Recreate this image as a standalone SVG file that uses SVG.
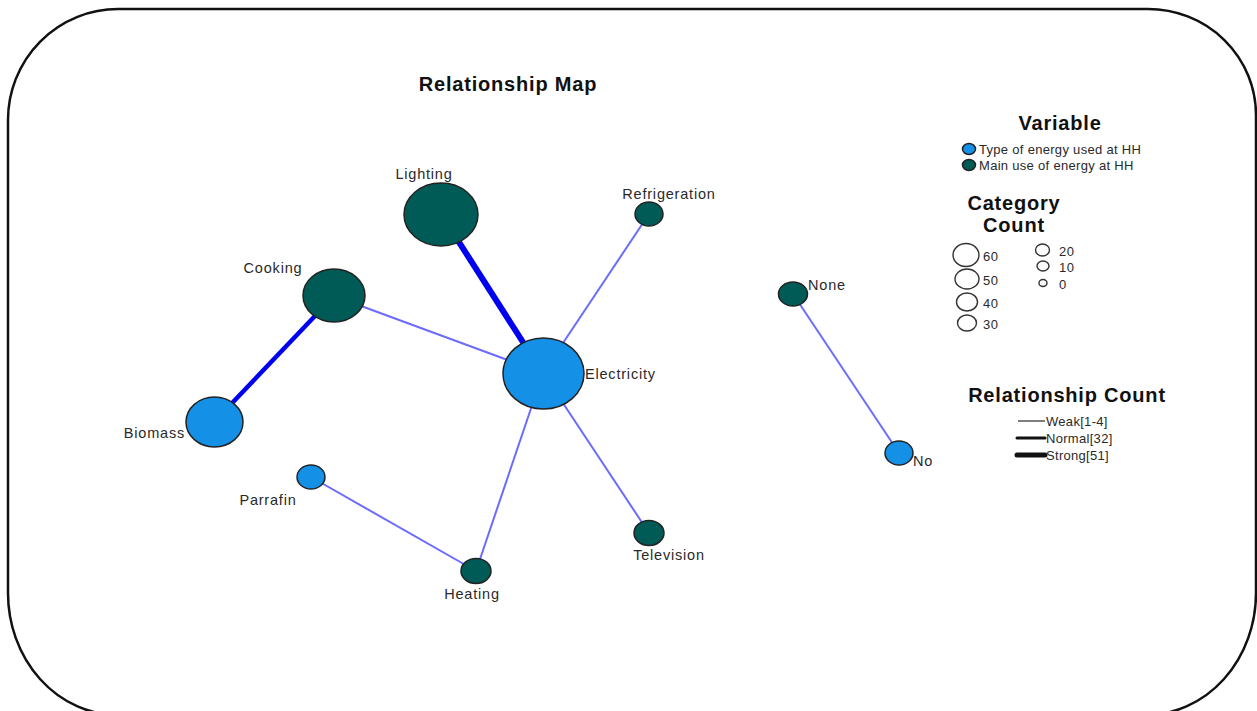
<svg xmlns="http://www.w3.org/2000/svg" width="1257" height="711" viewBox="0 0 1257 711">
  <style>
    text { font-family: "Liberation Sans", Arial, sans-serif; fill: #2a2a2a; }
    .lbl { font-size: 14.5px; letter-spacing: 0.8px; }
    .head { font-size: 20px; font-weight: bold; fill: #111; letter-spacing: 0.8px; }
    .leg { font-size: 13px; letter-spacing: 0.3px; }
    .num { font-size: 13px; letter-spacing: 0.5px; }
    .type { fill: #1490e6; stroke: #222; stroke-width: 1.5; }
    .use { fill: #005b56; stroke: #222; stroke-width: 1.5; }
    .cnt { fill: #fff; stroke: #333; stroke-width: 1.4; }
    .weak { stroke: #6b6bff; stroke-width: 2; fill: none; }
    .strong { stroke: #0000f0; fill: none; }
  </style>

  <rect width="1257" height="711" fill="#fff"/>
  <!-- frame -->
  <path d="M8 120 A110 111 0 0 1 118 9 L1148 9 A108 106 0 0 1 1256 115 L1256 593 A110 122 0 0 1 1146 715 L118 715 A110 122 0 0 1 8 593 Z" fill="none" stroke="#111" stroke-width="2.5"/>

  <text class="head" x="508" y="91" text-anchor="middle">Relationship Map</text>

  <!-- connectors -->
  <g id="connectors">
    <line class="strong" stroke-width="6" x1="441" y1="214" x2="528" y2="350"/>
    <line class="strong" stroke-width="4.5" x1="334" y1="296" x2="214" y2="422"/>
    <line class="weak" x1="334" y1="296" x2="543" y2="373"/>
    <line class="weak" x1="649" y1="214" x2="543" y2="373"/>
    <line class="weak" x1="543" y1="373" x2="649" y2="533"/>
    <line class="weak" x1="543" y1="373" x2="476" y2="571"/>
    <line class="weak" x1="311" y1="477" x2="476" y2="571"/>
    <line class="weak" x1="793" y1="294" x2="899" y2="453"/>
  </g>

  <!-- nodes -->
  <g id="node-lighting">
    <ellipse class="use" cx="441" cy="214.5" rx="37" ry="31.5"/>
    <text class="lbl" x="424" y="179" text-anchor="middle">Lighting</text>
  </g>
  <g id="node-electricity">
    <ellipse class="type" cx="543.5" cy="373.5" rx="40.5" ry="35.5"/>
    <text class="lbl" x="585" y="379">Electricity</text>
  </g>
  <g id="node-cooking">
    <ellipse class="use" cx="334" cy="295.5" rx="31" ry="26.5"/>
    <text class="lbl" x="273" y="273" text-anchor="middle">Cooking</text>
  </g>
  <g id="node-biomass">
    <ellipse class="type" cx="214.5" cy="422" rx="28.5" ry="25"/>
    <text class="lbl" x="185" y="438" text-anchor="end">Biomass</text>
  </g>
  <g id="node-parrafin">
    <ellipse class="type" cx="311" cy="477" rx="14" ry="12"/>
    <text class="lbl" x="268" y="505" text-anchor="middle">Parrafin</text>
  </g>
  <g id="node-heating">
    <ellipse class="use" cx="476" cy="571" rx="15" ry="12.5"/>
    <text class="lbl" x="472" y="599" text-anchor="middle">Heating</text>
  </g>
  <g id="node-television">
    <ellipse class="use" cx="649" cy="533" rx="15" ry="12.5"/>
    <text class="lbl" x="669" y="560" text-anchor="middle">Television</text>
  </g>
  <g id="node-refrigeration">
    <ellipse class="use" cx="649" cy="214" rx="14" ry="12"/>
    <text class="lbl" x="669" y="199" text-anchor="middle">Refrigeration</text>
  </g>
  <g id="node-none">
    <ellipse class="use" cx="793" cy="294" rx="14.5" ry="12"/>
    <text class="lbl" x="808" y="290">None</text>
  </g>
  <g id="node-no">
    <ellipse class="type" cx="899" cy="453" rx="14" ry="12"/>
    <text class="lbl" x="913" y="466">No</text>
  </g>

  <!-- legend: variable -->
  <g id="legend-variable">
    <text class="head" x="1060" y="130" text-anchor="middle">Variable</text>
    <ellipse class="type" cx="969" cy="149" rx="6.5" ry="5.5" stroke-width="1.2"/>
    <text class="leg" x="979" y="154">Type of energy used at HH</text>
    <ellipse class="use" cx="969" cy="165" rx="6.5" ry="5.5" stroke-width="1.2"/>
    <text class="leg" x="979" y="170">Main use of energy at HH</text>
  </g>

  <!-- legend: category count -->
  <g id="legend-count">
    <text class="head" x="1014" y="210" text-anchor="middle">Category</text>
    <text class="head" x="1014" y="232" text-anchor="middle">Count</text>
    <ellipse class="cnt" cx="966" cy="255" rx="13" ry="11.5"/>
    <text class="num" x="983" y="261">60</text>
    <ellipse class="cnt" cx="967" cy="279" rx="12" ry="10"/>
    <text class="num" x="983" y="285">50</text>
    <ellipse class="cnt" cx="967" cy="302" rx="10.5" ry="9"/>
    <text class="num" x="983" y="308">40</text>
    <ellipse class="cnt" cx="967" cy="323" rx="9.5" ry="8"/>
    <text class="num" x="983" y="329">30</text>
    <ellipse class="cnt" cx="1042.5" cy="250" rx="7" ry="6"/>
    <text class="num" x="1059" y="256">20</text>
    <ellipse class="cnt" cx="1043" cy="266" rx="6" ry="5"/>
    <text class="num" x="1059" y="272">10</text>
    <ellipse class="cnt" cx="1043" cy="283" rx="4" ry="3.5"/>
    <text class="num" x="1059" y="289">0</text>
  </g>

  <!-- legend: relationship count -->
  <g id="legend-relationship">
    <text class="head" x="1067" y="402" text-anchor="middle">Relationship Count</text>
    <line x1="1018" y1="421" x2="1045" y2="421" stroke="#555" stroke-width="1.5"/>
    <text class="leg" x="1046" y="426" letter-spacing="0.6">Weak[1-4]</text>
    <line x1="1017" y1="438" x2="1045" y2="438" stroke="#111" stroke-width="3" stroke-linecap="round"/>
    <text class="leg" x="1046" y="443" letter-spacing="0.6">Normal[32]</text>
    <line x1="1017" y1="455" x2="1045" y2="455" stroke="#111" stroke-width="5" stroke-linecap="round"/>
    <text class="leg" x="1046" y="460" letter-spacing="0.6">Strong[51]</text>
  </g>
</svg>
